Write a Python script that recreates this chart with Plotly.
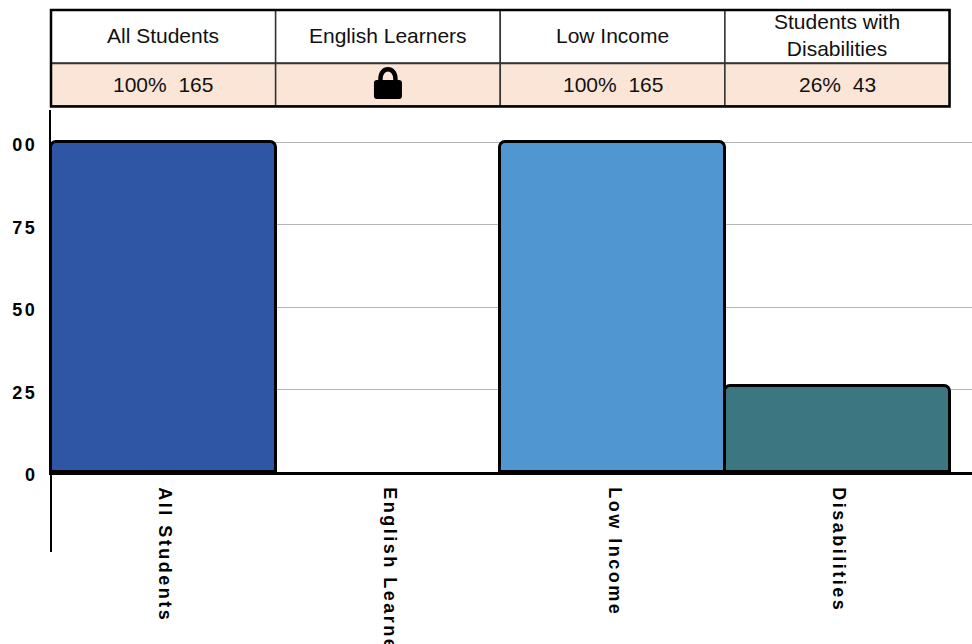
import plotly.graph_objects as go

categories = ["All Students", "English Learners", "Low Income", "Disabilities"]
values = [100, None, 100, 26]
bar_colors = ["#2E56A4", "#FFFFFF", "#5097D2", "#3C7680"]
table_headers = ["All Students", "English Learners", "Low Income", "Students with<br>Disabilities"]
table_values = ["100%  165", "", "100%  165", "26%  43"]
y_ticks = [0, 25, 50, 75, 100]
y_tick_labels = ["0", "25", "50", "75", "00"]

W, H = 972, 644
L, T, B = 51, 110, 172
PW, PH = W - L, H - T - B


def spaced(s, px):
    return f'<span style="letter-spacing:{px}px">{s}</span>'


def px(v):
    return v / PW


def py(v):
    return 1 - (v - T) / PH


fig = go.Figure(go.Bar(
    x=categories, y=values, width=1,
    marker=dict(color=bar_colors, line=dict(color="#000000", width=3), cornerradius=6),
    hoverinfo="skip",
))

shapes = []
ann = []
# y-axis extension below zero
shapes.append(dict(type="line", xref="paper", yref="paper", x0=0, x1=0, y0=0, y1=py(552),
                   line=dict(color="#000", width=2)))
ROWS = [(10, 63, "#FFFFFF"), (63.5, 106, "#FBE5D6")]
BAND = PW / 4.1
for r, (top, bot, fill) in enumerate(ROWS):
    for c in range(4):
        x0 = L + c * BAND
        x1 = x0 + BAND
        shapes.append(dict(type="rect", xref="paper", yref="paper",
                           x0=px(x0 - L), x1=px(x1 - L), y0=py(bot), y1=py(top),
                           fillcolor=fill, line=dict(color="#333", width=1.5), layer="above"))
        text = table_headers[c] if r == 0 else table_values[c]
        if text:
            ann.append(dict(xref="paper", yref="paper", x=px((x0 + x1) / 2 - L),
                            y=py((top + bot) / 2 - (1.5 if r == 0 else 0)),
                            text=text, showarrow=False, xanchor="center", yanchor="middle",
                            font=dict(family="Liberation Sans, Arial", size=21, color="#111")))
# outer frame of the table
shapes.append(dict(type="rect", xref="paper", yref="paper", x0=0, x1=px(4 * BAND),
                   y0=py(106.5), y1=py(10), line=dict(color="#000", width=2.5), layer="above"))

# lock icon in the suppressed cell
cx = L + 1.5 * BAND
cy = 85


def P(x, y):
    return f"{px(x - L):.5f},{py(y):.5f}"


l, r_, t, b = cx - 14, cx + 14, cy - 5, cy + 14
rad = 3
body = (f"M {P(l + rad, t)} L {P(r_ - rad, t)} Q {P(r_, t)} {P(r_, t + rad)} "
        f"L {P(r_, b - rad)} Q {P(r_, b)} {P(r_ - rad, b)} "
        f"L {P(l + rad, b)} Q {P(l, b)} {P(l, b - rad)} "
        f"L {P(l, t + rad)} Q {P(l, t)} {P(l + rad, t)} Z")
shapes.append(dict(type="path", xref="paper", yref="paper", path=body,
                   fillcolor="#000", line=dict(color="#000", width=0), layer="above"))
shackle = (f"M {P(cx - 7.5, cy - 3)} L {P(cx - 7.5, cy - 6)} "
           f"C {P(cx - 7.5, cy - 19)} {P(cx + 7.5, cy - 19)} {P(cx + 7.5, cy - 6)} L {P(cx + 7.5, cy - 3)}")
shapes.append(dict(type="path", xref="paper", yref="paper", path=shackle,
                   line=dict(color="#000", width=4.5), layer="above"))

fig.update_layout(
    width=W, height=H, margin=dict(l=L, r=0, t=T, b=B, pad=0),
    paper_bgcolor="#FFFFFF", plot_bgcolor="#FFFFFF", showlegend=False,
    shapes=shapes, annotations=ann, bargap=0,
    font=dict(family="Liberation Sans, Arial", color="#000"),
)
fig.update_xaxes(
    range=[-0.5, 3.6], type="category", categoryorder="array", categoryarray=categories,
    tickmode="array", tickvals=categories,
    ticktext=[spaced(c, 2.5) for c in categories],
    tickangle=90, ticks="", ticklabelstandoff=9, ticklabelshift=2,
    tickfont=dict(family="Liberation Sans, Arial", size=18, color="#000", weight="bold"),
    showline=True, linecolor="#000", linewidth=2.5, showgrid=False, zeroline=False, automargin=False,
)
fig.update_yaxes(
    range=[0, 109.7], tickmode="array", tickvals=y_ticks,
    ticktext=[spaced(t, 2.5) for t in y_tick_labels],
    ticks="", ticklabelstandoff=8, ticklabelshift=3,
    tickfont=dict(family="Liberation Sans, Arial", size=18, color="#000", weight="bold"),
    showline=True, linecolor="#000", linewidth=2, showgrid=True, gridcolor="#B5B5B5", gridwidth=1.2,
    zeroline=False, automargin=False,
)
fig.write_html("out.html", config={"displayModeBar": False},
               post_script="document.body.style.margin='0';document.body.style.overflow='hidden';")
